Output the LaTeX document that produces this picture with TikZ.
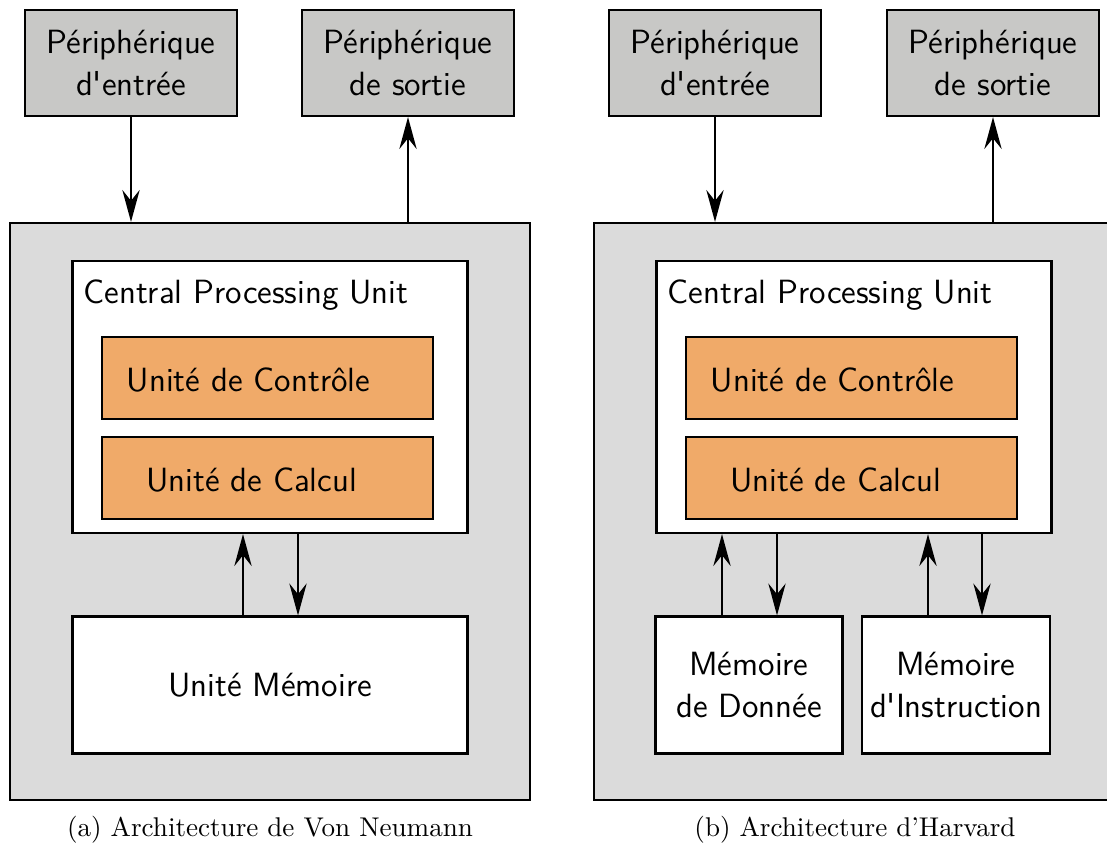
\documentclass[tikz,border=0pt]{standalone}
\usepackage{fontspec}
\usetikzlibrary{arrows.meta}
\newdimen\pxu \pxu=0.369pt
\definecolor{periph}{RGB}{200,200,198}
\definecolor{outerbg}{RGB}{219,219,219}
\definecolor{unitorange}{RGB}{240,170,105}
\newcommand\sq{\textquotesingle}
\tikzset{
  every node/.style={font=\sffamily\fontsize{12.4}{15.5}\selectfont},
  box/.style={draw=black, line width=0.8pt, rectangle, inner sep=0pt, align=center},
  periphbox/.style={box, fill=periph, minimum width=212*\pxu, minimum height=106*\pxu},
  outerbox/.style={box, fill=outerbg},
  cpubox/.style={box, fill=white, minimum width=395*\pxu, minimum height=272*\pxu},
  unitbox/.style={box, fill=unitorange, minimum width=331*\pxu, minimum height=82*\pxu},
  membox/.style={box, fill=white},
  arr/.style={line width=0.75pt, -{Stealth[length=11.8pt, width=6.4pt, inset=4pt]}},
  capt/.style={font=\rmfamily\fontsize{10}{12}\selectfont},
}
\begin{document}
\begin{tikzpicture}[x=\pxu, y=-\pxu]
\clip (0,0) rectangle (1107,846);
\fill[white] (0,0) rectangle (1107,846);

% ---------- (a) Von Neumann ----------
\node[outerbox, minimum width=520*\pxu, minimum height=577*\pxu] (outA) at (270,511.5) {};
\node[periphbox] (inA) at (131,63) {Périphérique\\d\sq entrée};
\node[periphbox] (outpA) at (408,63) {Périphérique\\de sortie};
\node[cpubox] (cpuA) at (270,397) {};
\node[anchor=west] (cpuAlbl) at (74,295) {Central Processing Unit};
\node[unitbox] (ucA) at (267.5,378) {};
\node (ucAlbl) at (248.5,380) {Unité de Contrôle};
\node[unitbox] (calA) at (267.5,478) {};
\node (calAlbl) at (251.5,480) {Unité de Calcul};
\node[membox, minimum width=395*\pxu, minimum height=137*\pxu] (memA) at (270,685) {Unité Mémoire};

\draw[arr] (inA.south) -- (inA.south |- outA.north);
\draw[arr] (outpA.south |- outA.north) -- (outpA.south);
\draw[arr] (memA.north -| 243,0) -- (cpuA.south -| 243,0);
\draw[arr] (cpuA.south -| 298,0) -- (memA.north -| 298,0);

\node[capt] (captA) at (270,830) {(a) Architecture de Von Neumann};

% ---------- (b) Harvard ----------
\node[outerbox, minimum width=530*\pxu, minimum height=577*\pxu] (outB) at (859,511.5) {};
\node[periphbox] (inB) at (715,63) {Périphérique\\d\sq entrée};
\node[periphbox] (outpB) at (993,63) {Périphérique\\de sortie};
\node[cpubox] (cpuB) at (854,397) {};
\node[anchor=west] (cpuBlbl) at (658,295) {Central Processing Unit};
\node[unitbox] (ucB) at (851.5,378) {};
\node (ucBlbl) at (832.5,380) {Unité de Contrôle};
\node[unitbox] (calB) at (851.5,478) {};
\node (calBlbl) at (835.5,480) {Unité de Calcul};
\node[membox, minimum width=187*\pxu, minimum height=137*\pxu] (memD) at (749,685) {Mémoire\\de Donnée};
\node[membox, minimum width=188*\pxu, minimum height=137*\pxu] (memI) at (956,685) {Mémoire\\d\sq Instruction};

\draw[arr] (inB.south) -- (inB.south |- outB.north);
\draw[arr] (outpB.south |- outB.north) -- (outpB.south);
\draw[arr] (memD.north -| 722,0) -- (cpuB.south -| 722,0);
\draw[arr] (cpuB.south -| 777,0) -- (memD.north -| 777,0);
\draw[arr] (memI.north -| 928,0) -- (cpuB.south -| 928,0);
\draw[arr] (cpuB.south -| 982,0) -- (memI.north -| 982,0);

\node[capt] (captB) at (855,830) {(b) Architecture d'Harvard};
\end{tikzpicture}
\end{document}
